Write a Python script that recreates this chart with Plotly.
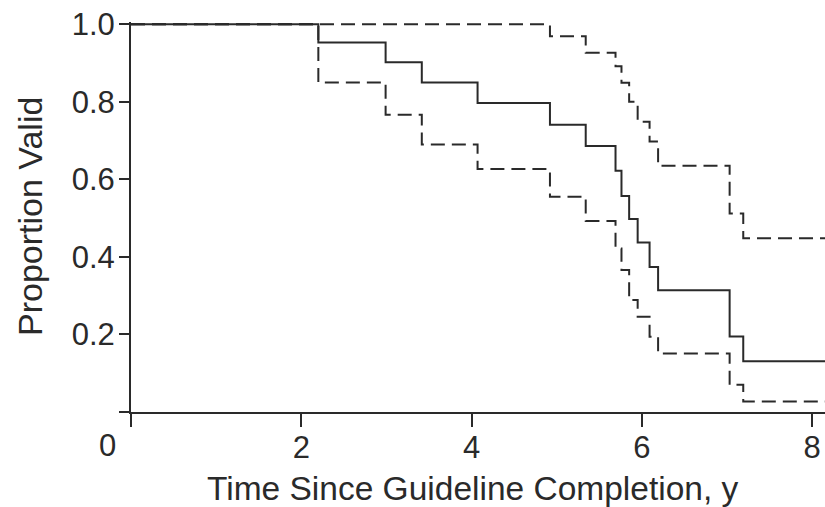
import plotly.graph_objects as go

# Kaplan-Meier estimate with 95% confidence limits
times = [0, 2.20, 2.99, 3.415, 4.07, 4.92, 5.34, 5.69, 5.76, 5.85, 5.95, 6.09, 6.19, 7.03, 7.19, 8.15]
estimate = [1.0, 0.953, 0.902, 0.850, 0.797, 0.741, 0.686, 0.622, 0.557, 0.498, 0.437, 0.374, 0.314, 0.195, 0.131, 0.131]
lower_ci = [1.0, 0.850, 0.767, 0.690, 0.627, 0.555, 0.493, 0.422, 0.366, 0.289, 0.246, 0.194, 0.151, 0.070, 0.027, 0.027]
upper_ci = [1.0, 1.0, 1.0, 1.0, 1.0, 0.969, 0.927, 0.892, 0.849, 0.800, 0.749, 0.698, 0.635, 0.512, 0.448, 0.448]

x_ticks = [0, 2, 4, 6, 8]
x_ticktext = ["", "2", "4", "6", "8"]
y_ticks = [0, 0.2, 0.4, 0.6, 0.8, 1.0]
y_ticktext = ["", "0.2", "0.4", "0.6", "0.8", "1.0"]

x_title = "Time Since Guideline Completion, y"
y_title = "Proportion Valid"

ink = "#2a2a2a"
font = "Liberation Sans, Arial, sans-serif"

fig = go.Figure()
for vals, dash in [(upper_ci, "14px,7px"), (lower_ci, "14px,7px"), (estimate, "solid")]:
    fig.add_trace(go.Scatter(x=times, y=vals, mode="lines", line_shape="hv",
                             line=dict(color=ink, width=2, dash=dash),
                             showlegend=False, hoverinfo="skip", cliponaxis=False))

fig.update_layout(
    width=825, height=507,
    margin=dict(l=131, r=0, t=22, b=95, autoexpand=False),
    plot_bgcolor="white", paper_bgcolor="white",
    font=dict(family=font, color=ink),
    xaxis=dict(range=[0, 8.15], tickvals=x_ticks, ticktext=x_ticktext, automargin=False,
               showgrid=False, zeroline=False, showline=True, linecolor=ink, linewidth=2,
               ticks="outside", ticklen=13, tickwidth=2, tickcolor=ink, ticklabelstandoff=-6,
               ticklabeloverflow="allow",
               tickfont=dict(size=31, family=font, color=ink)),
    yaxis=dict(range=[0, 1.006], tickvals=y_ticks, ticktext=y_ticktext, automargin=False,
               showgrid=False, zeroline=False, showline=True, linecolor=ink, linewidth=2,
               ticks="outside", ticklen=10, tickwidth=2, tickcolor=ink, ticklabelstandoff=-2,
               ticklabeloverflow="allow",
               tickfont=dict(size=31, family=font, color=ink)),
)
fig.add_annotation(x=0, y=0, xref="x", yref="y", text="0", showarrow=False,
                   xshift=-24, yshift=-33, font=dict(size=31, family=font, color=ink))
fig.add_annotation(x=0.4928, y=-0.197, xref="paper", yref="paper", text=x_title, showarrow=False,
                   xanchor="center", yanchor="middle", font=dict(size=33.5, family=font, color=ink))
fig.add_annotation(x=-0.1455, y=0.5, xref="paper", yref="paper", text=y_title, showarrow=False,
                   textangle=-90, xanchor="center", yanchor="middle",
                   font=dict(size=34, family=font, color=ink))

# remove the default page margin so the 825x507 figure fills the window exactly
fig.write_html("out.html", config={"displayModeBar": False},
               post_script="document.body.style.margin='0';document.body.style.overflow='hidden';")
